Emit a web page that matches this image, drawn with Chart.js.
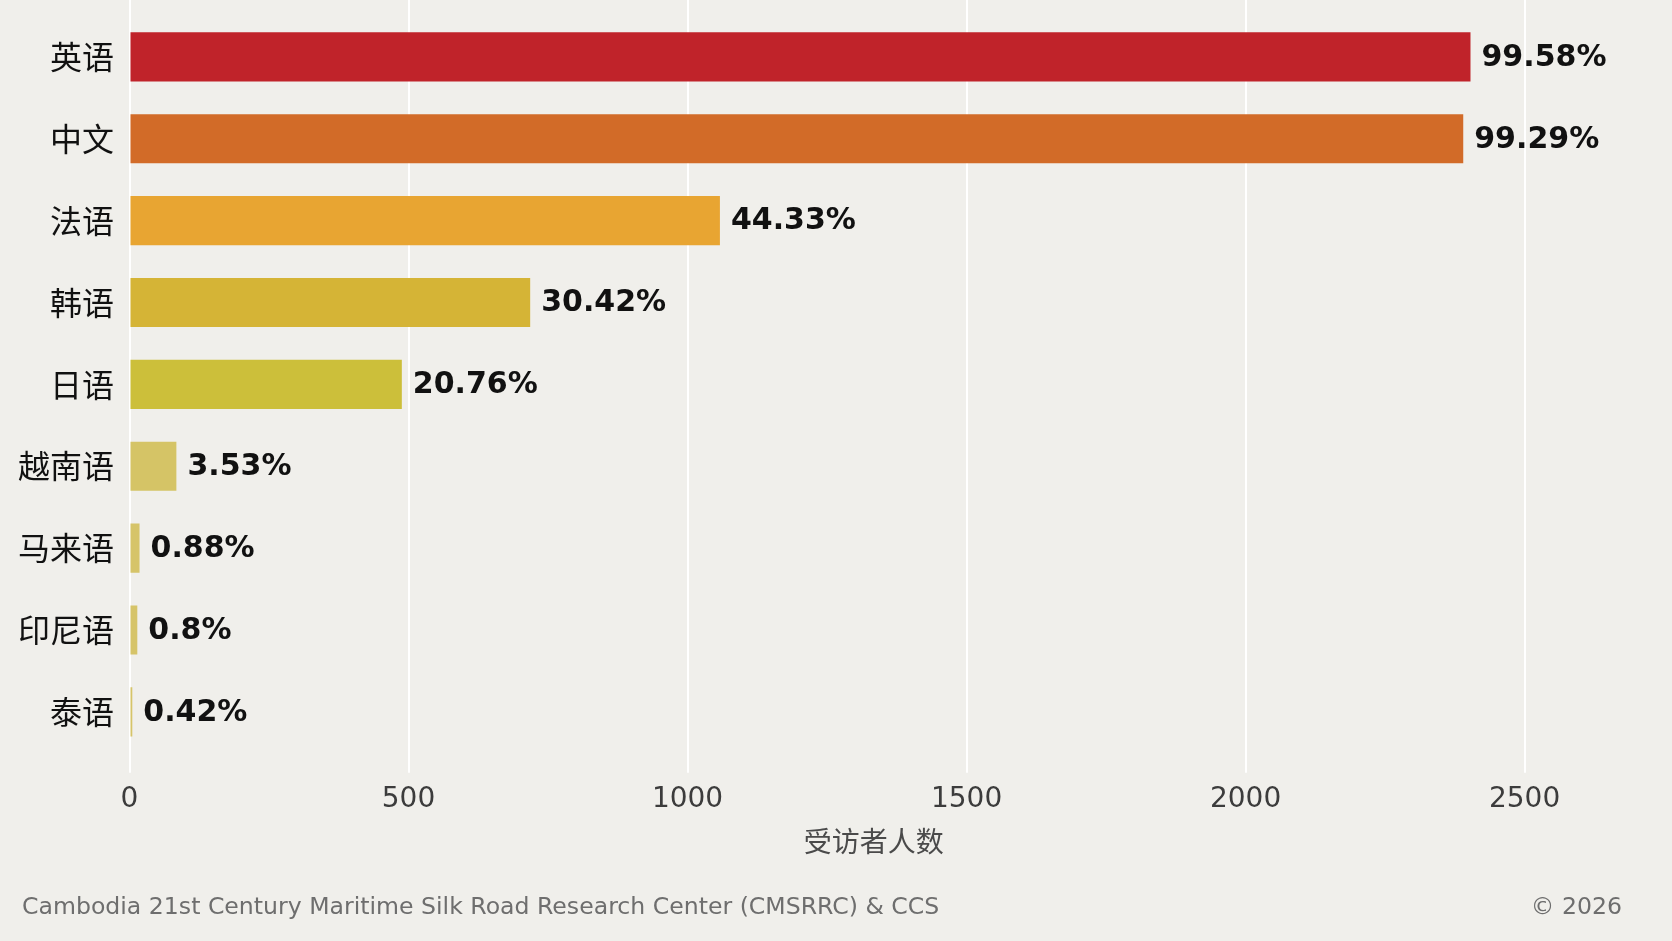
<!DOCTYPE html>
<html>
<head>
<meta charset="utf-8">
<script src="https://cdn.jsdelivr.net/npm/chart.js@4"></script>
<style>
  html, body { margin: 0; padding: 0; background: #f0efeb; }
  #wrap { width: 1672px; height: 941px; }
</style>
</head>
<body>
<div id="wrap"><canvas id="chart" width="1672" height="941"></canvas></div>
<script>
// Languages and respondent counts
const languages = ['英语', '中文', '法语', '韩语', '日语', '越南语', '马来语', '印尼语', '泰语'];
const counts = [2403, 2390, 1058, 718, 488, 84, 18, 14, 5];
const percentLabels = ['99.58%', '99.29%', '44.33%', '30.42%', '20.76%', '3.53%', '0.88%', '0.8%', '0.42%'];
const xTicks = [0, 500, 1000, 1500, 2000, 2500];
const barColors = ['#c0232a', '#d26b28', '#e8a532', '#d5b436', '#ccbf3a', '#d5c466', '#d6c469', '#d6c469', '#d6c469'];

const sourceText = 'Cambodia 21st Century Maritime Silk Road Research Center (CMSRRC) & CCS';
const copyText = '\u00a9 2026';

Chart.defaults.font.family = "'DejaVu Sans', 'Noto Sans CJK SC', sans-serif";

// value labels at bar ends + footer + gridline extension to the top
const extras = {
    id: 'extras',
    beforeDatasetsDraw(chart) {
        const ctx = chart.ctx;
        const x = chart.scales.x;
        ctx.save();
        ctx.strokeStyle = '#ffffff';
        ctx.lineWidth = 2;
        x.ticks.forEach(t => {
            const px = Math.round(x.getPixelForValue(t.value));
            ctx.beginPath();
            ctx.moveTo(px, 0);
            ctx.lineTo(px, chart.chartArea.top);
            ctx.stroke();
        });
        ctx.restore();
    },
    afterDatasetsDraw(chart) {
        const ctx = chart.ctx;
        const meta = chart.getDatasetMeta(0);
        ctx.save();
        ctx.font = "bold 30px 'DejaVu Sans', sans-serif";
        ctx.fillStyle = '#111111';
        ctx.textAlign = 'left';
        ctx.textBaseline = 'middle';
        meta.data.forEach((bar, i) => {
            ctx.fillText(percentLabels[i], bar.x + 11, bar.y + 1);
        });
        ctx.font = "23.6px 'DejaVu Sans', sans-serif";
        ctx.fillStyle = '#6e6e6e';
        ctx.textBaseline = 'alphabetic';
        ctx.fillText(sourceText, 22, 914);
        ctx.textAlign = 'right';
        ctx.fillText(copyText, 1622, 914);
        ctx.restore();
    }
};

const ctx = document.getElementById('chart').getContext('2d');
new Chart(ctx, {
    type: 'bar',
    data: {
        labels: languages,
        datasets: [{
            data: counts,
            backgroundColor: barColors,
            borderWidth: 0,
            barPercentage: 0.6,
            categoryPercentage: 1.0
        }]
    },
    options: {
        indexAxis: 'y',
        responsive: false,
        animation: false,
        layout: {
            padding: { left: 10.5, right: 54, top: 16, bottom: 79 }
        },
        plugins: {
            legend: { display: false },
            tooltip: { enabled: false }
        },
        scales: {
            x: {
                min: 0,
                max: Math.max(...counts) * 1.11,
                afterBuildTicks: s => {
                    s.ticks = xTicks.map(v => ({ value: v }));
                },
                grid: {
                    color: '#ffffff',
                    lineWidth: 2,
                    tickLength: 20
                },
                border: { display: false },
                ticks: {
                    color: '#3c3c3c',
                    font: { size: 28 },
                    padding: 10,
                    maxRotation: 0,
                    callback: v => String(v)
                },
                title: {
                    display: true,
                    text: '受访者人数',
                    color: '#4a4a4a',
                    font: { size: 28, family: "'Noto Sans CJK SC', sans-serif" },
                    padding: { top: -2, bottom: 4 }
                }
            },
            y: {
                grid: { display: false },
                border: { display: false },
                ticks: {
                    color: '#111111',
                    font: { size: 32, family: "'Noto Sans CJK SC', sans-serif" },
                    padding: 7.5
                },
                // category labels sit at band centres, no need for extra room above/below
                afterFit: s => {
                    s.paddingTop = 0;
                    s.paddingBottom = 0;
                }
            }
        }
    },
    plugins: [extras]
});
</script>
</body>
</html>
